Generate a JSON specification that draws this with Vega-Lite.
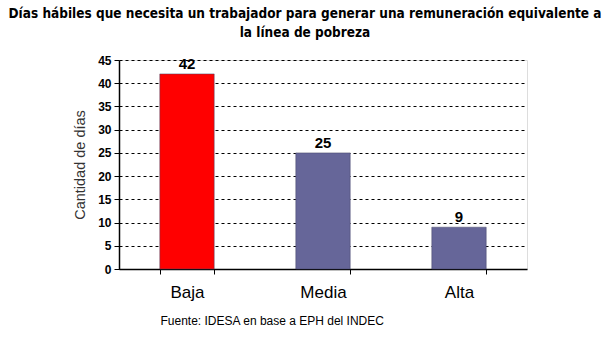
{
  "$schema": "https://vega.github.io/schema/vega-lite/v6.json",
  "width": 408,
  "height": 209,
  "autosize": {"type": "none"},
  "padding": {"left": 119, "top": 60, "right": 83, "bottom": 95},
  "background": "white",
  "title": {
    "text": ["Días hábiles que necesita un trabajador para generar una remuneración equivalente a", "la línea de pobreza"],
    "font": "DejaVu Sans Condensed",
    "fontSize": 13.5,
    "fontWeight": "bold",
    "color": "black",
    "lineHeight": 19,
    "anchor": "middle",
    "dx": -18,
    "offset": 15
  },
  "data": {
    "values": [
      {"nivel": "Baja", "dias": 42},
      {"nivel": "Media", "dias": 25},
      {"nivel": "Alta", "dias": 9}
    ]
  },
  "encoding": {
    "x": {
      "field": "nivel",
      "type": "nominal",
      "sort": ["Baja", "Media", "Alta"],
      "scale": {"paddingInner": 0.6, "paddingOuter": 0.3},
      "axis": {
        "title": "Fuente: IDESA en base a  EPH del INDEC",
        "titleFont": "Liberation Sans",
        "titleFontSize": 12,
        "titleFontWeight": "normal",
        "titleColor": "black",
        "titleAnchor": "start",
        "titleX": 41,
        "titlePadding": 15,
        "labelAngle": 0,
        "labelFont": "Liberation Sans",
        "labelFontSize": 17,
        "labelColor": "black",
        "labelPadding": 10,
        "tickBand": "extent",
        "tickColor": "black",
        "tickSize": 5,
        "domainColor": "black",
        "domainWidth": 1.5
      }
    },
    "y": {
      "field": "dias",
      "type": "quantitative",
      "scale": {"domain": [0, 45]},
      "axis": {
        "values": [0, 5, 10, 15, 20, 25, 30, 35, 40, 45],
        "title": "Cantidad de días",
        "titleFont": "Liberation Sans",
        "titleFontSize": 14.5,
        "titleFontWeight": "normal",
        "titleColor": "#333333",
        "titlePadding": 10,
        "labelFont": "Liberation Sans",
        "labelFontSize": 12,
        "labelFontWeight": "bold",
        "labelColor": "black",
        "labelPadding": 3,
        "tickColor": "black",
        "tickSize": 5,
        "domainColor": "black",
        "domainWidth": 1.5,
        "grid": true,
        "gridColor": "black",
        "gridDash": [3, 3],
        "gridWidth": 1
      }
    }
  },
  "layer": [
    {
      "mark": {"type": "bar", "stroke": "#444466", "strokeWidth": 0.5},
      "encoding": {
        "color": {
          "field": "nivel",
          "type": "nominal",
          "scale": {"domain": ["Baja", "Media", "Alta"], "range": ["#FF0000", "#666699", "#666699"]},
          "legend": null
        }
      }
    },
    {
      "mark": {"type": "text", "dy": -10, "font": "Liberation Sans", "fontSize": 15, "fontWeight": "bold", "color": "black"},
      "encoding": {"text": {"field": "dias", "type": "quantitative"}}
    }
  ]
}
